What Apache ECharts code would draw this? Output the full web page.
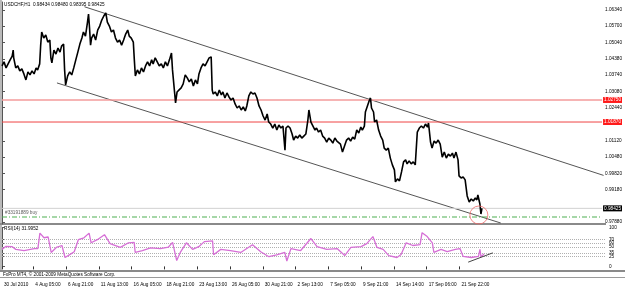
<!DOCTYPE html>
<html><head><meta charset="utf-8">
<script src="https://cdn.jsdelivr.net/npm/echarts@6/dist/echarts.min.js"></script>
<style>html,body{margin:0;padding:0;background:#fff}#c{width:625px;height:289px}</style>
</head><body><div id="c"></div>
<script>
// ---- data (bar index = H1 bars from the left edge of the chart) ----
const symbolTitle = 'USDCHF,H1  0.98434 0.98480 0.98395 0.98425';
const rsiTitle = 'RSI(14) 31.9952';
const copyright = 'FxPro MT4, \u00A9 2001-2009 MetaQuotes Software Corp.';
const xLabelBars = [0,61,125,189,253,317,381,445,509,573,637,701,765,829,893];
const xLabelTexts = ['30 Jul 2010','4 Aug 05:00','6 Aug 21:00','11 Aug 13:00','16 Aug 05:00','18 Aug 21:00','23 Aug 13:00','26 Aug 05:00','30 Aug 21:00','2 Sep 13:00','7 Sep 05:00','9 Sep 21:00','14 Sep 14:00','17 Sep 06:00','21 Sep 22:00'];
const priceTicks = [1.0634,1.0570,1.0504,1.0438,1.0374,1.0308,1.0244,1.0112,1.0048,0.9982,0.9918,0.9788];
const resistance1 = 1.0275;
const resistance2 = 1.0187;
const bidPrice = 0.98425;
const orderPrice = 0.9808;
const orderLabel = '#33191889 buy';
const price = [[0,1.0411],[4,1.0427],[8,1.0403],[12,1.0419],[16,1.0435],[20,1.0450],[22,1.0474],[23,1.0443],[27,1.0403],[31,1.0411],[35,1.0391],[39,1.0399],[43,1.0379],[47,1.0355],[51,1.0387],[55,1.0375],[59,1.0391],[63,1.0379],[67,1.0403],[70,1.0395],[74,1.0419],[76,1.0494],[78,1.0546],[82,1.0522],[86,1.0534],[90,1.0506],[94,1.0514],[96,1.0443],[98,1.0423],[102,1.0474],[106,1.0458],[110,1.0482],[114,1.0466],[117,1.0490],[121,1.0498],[123,1.0395],[125,1.0335],[129,1.0371],[133,1.0387],[137,1.0375],[141,1.0403],[145,1.0435],[149,1.0466],[153,1.0498],[157,1.0522],[160,1.0546],[164,1.0530],[168,1.0586],[170,1.0618],[172,1.0562],[174,1.0494],[176,1.0522],[180,1.0538],[184,1.0514],[188,1.0554],[192,1.0570],[196,1.0594],[200,1.0610],[204,1.0622],[207,1.0586],[211,1.0570],[215,1.0546],[219,1.0554],[223,1.0522],[227,1.0506],[231,1.0514],[235,1.0494],[239,1.0514],[243,1.0538],[247,1.0554],[250,1.0530],[254,1.0522],[258,1.0506],[260,1.0435],[262,1.0371],[266,1.0395],[270,1.0379],[274,1.0403],[278,1.0387],[282,1.0411],[286,1.0427],[290,1.0411],[294,1.0435],[297,1.0419],[301,1.0443],[305,1.0427],[309,1.0411],[313,1.0419],[317,1.0403],[321,1.0427],[325,1.0411],[329,1.0435],[333,1.0462],[335,1.0395],[339,1.0307],[341,1.0263],[344,1.0307],[348,1.0315],[352,1.0323],[356,1.0339],[360,1.0375],[364,1.0363],[368,1.0347],[372,1.0359],[376,1.0331],[380,1.0355],[384,1.0339],[387,1.0379],[391,1.0403],[395,1.0419],[399,1.0411],[403,1.0427],[407,1.0443],[411,1.0447],[413,1.0315],[415,1.0299],[419,1.0307],[423,1.0291],[427,1.0315],[431,1.0295],[434,1.0307],[438,1.0283],[442,1.0303],[446,1.0287],[450,1.0275],[454,1.0283],[458,1.0259],[462,1.0243],[466,1.0251],[470,1.0235],[474,1.0247],[478,1.0231],[481,1.0251],[485,1.0291],[489,1.0307],[493,1.0299],[497,1.0303],[501,1.0283],[505,1.0251],[509,1.0235],[513,1.0211],[517,1.0195],[521,1.0219],[524,1.0187],[528,1.0179],[532,1.0163],[536,1.0179],[540,1.0155],[544,1.0175],[548,1.0163],[552,1.0171],[556,1.0075],[558,1.0163],[562,1.0171],[566,1.0163],[570,1.0139],[573,1.0115],[577,1.0131],[581,1.0123],[585,1.0135],[589,1.0123],[593,1.0131],[597,1.0139],[601,1.0195],[603,1.0235],[607,1.0187],[611,1.0171],[615,1.0155],[618,1.0163],[622,1.0147],[626,1.0155],[630,1.0131],[634,1.0123],[638,1.0107],[642,1.0123],[646,1.0115],[650,1.0103],[654,1.0123],[658,1.0111],[661,1.0115],[665,1.0099],[669,1.0067],[673,1.0091],[677,1.0115],[681,1.0123],[685,1.0111],[689,1.0127],[693,1.0119],[697,1.0155],[701,1.0143],[705,1.0167],[708,1.0155],[712,1.0171],[714,1.0227],[718,1.0251],[722,1.0275],[724,1.0283],[726,1.0243],[730,1.0227],[732,1.0187],[736,1.0195],[740,1.0155],[744,1.0131],[748,1.0115],[751,1.0083],[755,1.0075],[759,1.0083],[763,1.0043],[767,1.0016],[771,0.9996],[773,0.9948],[777,0.9960],[781,0.9952],[785,0.9988],[789,1.0028],[793,1.0036],[796,1.0020],[800,1.0032],[804,1.0020],[808,1.0028],[812,1.0016],[816,1.0147],[820,1.0163],[824,1.0171],[828,1.0163],[832,1.0179],[836,1.0167],[838,1.0183],[842,1.0107],[845,1.0083],[849,1.0111],[853,1.0103],[857,1.0115],[861,1.0099],[865,1.0047],[869,1.0067],[873,1.0043],[877,1.0059],[881,1.0051],[885,1.0063],[888,1.0043],[892,1.0067],[896,1.0036],[898,0.9972],[902,0.9964],[906,0.9968],[910,0.9956],[914,0.9892],[918,0.9868],[922,0.9880],[926,0.9872],[930,0.9884],[933,0.9876],[935,0.9896],[939,0.9860],[941,0.9820],[943,0.98425]];
const upperChannel = [[162,1.0647],[1182,0.9974]];
const lowerChannel = [[108,1.0343],[980,0.9784]];
const markedPoint = [[937,0.9816]];
const rsiBars = [0,8,20,27,43,63,70,74,82,90,96,106,117,123,133,141,149,160,170,174,186,200,211,231,247,258,260,274,290,309,325,333,341,348,360,372,384,395,411,413,427,446,466,489,505,521,536,552,556,564,583,603,615,634,654,669,681,701,712,724,732,744,755,771,779,789,802,816,820,830,840,843,857,869,885,894,900,916,930,933,935,941];
const rsiValues = [44,52,51,44,41,46,46,86,74,76,36,49,54,23,31,38,69,74,86,61,69,82,59,49,61,62,36,41,48,46,50,62,15,36,61,44,51,64,66,30,44,41,36,56,38,25,30,36,14,46,41,72,51,44,46,28,49,51,59,77,49,44,28,23,31,61,54,56,87,77,61,36,44,38,44,46,26,23,26,44,25,32];
const rsiLevels = [70,60,50,35,25];
const rsiTicks = [0,25,35,50,60,70,100];
const rsiTrend = [[910,11],[958,35]];

const FONT = 'Liberation Sans';
const FS = 4.7;
const XMIN = 0, XMAX = 1179;
const chart = echarts.init(document.getElementById('c'), null, {renderer:'canvas'});
const rsiData = rsiBars.map((b,i)=>[b, rsiValues[i]]);

function hLine(level, color, width, type, labelText, labelBg, z){
  const s = {type:'line', xAxisIndex:0, yAxisIndex:0, data:[[XMIN,level],[XMAX,level]], symbol:'none', silent:true,
    clip:false, z:z||3, color:color, lineStyle:{color:color, width:width, type:type}};
  if (labelText) s.endLabel = {show:true, formatter:labelText, backgroundColor:labelBg, color:'#fff',
      fontSize:FS, fontFamily:FONT, padding:[1,1,0,1], distance:1};
  return s;
}

chart.setOption({
  animation:false,
  backgroundColor:'#fff',
  grid:[
    {left:2, top:2, width:604, height:222},
    {left:2, top:227.7, width:604, height:38.7}
  ],
  xAxis:[
    {gridIndex:0, type:'value', min:XMIN, max:XMAX, show:false},
    {gridIndex:1, type:'value', min:XMIN, max:XMAX, offset:12.6,
      axisLine:{show:false},
      axisTick:{show:true, customValues:xLabelBars, length:3, lineStyle:{color:'#333'}},
      axisLabel:{customValues:xLabelBars, align:'left', margin:3, padding:[0,0,0,2], fontSize:FS, fontFamily:FONT, color:'#000',
        formatter:(v)=>{const i=xLabelBars.indexOf(Math.round(v)); return i>=0?xLabelTexts[i]:'';}},
      splitLine:{show:false}}
  ],
  yAxis:[
    {gridIndex:0, type:'value', position:'right', min:0.97801, max:1.06659, scale:true,
      axisLine:{show:true, lineStyle:{color:'#555'}},
      axisTick:{show:true, customValues:priceTicks, length:3, lineStyle:{color:'#555'}},
      axisLabel:{customValues:priceTicks, margin:3, fontSize:FS, fontFamily:FONT, color:'#000', formatter:(v)=>v.toFixed(5)},
      splitLine:{show:false}},
    {gridIndex:1, type:'value', position:'right', min:0, max:100,
      axisLine:{show:true, lineStyle:{color:'#555'}},
      axisTick:{show:true, customValues:rsiTicks, length:3, lineStyle:{color:'#555'}},
      axisLabel:{customValues:rsiTicks, margin:3, fontSize:FS, fontFamily:FONT, color:'#000'},
      splitLine:{show:false}}
  ],
  series:[
    hLine(resistance1, '#f39b9b', 1.6, 'solid', resistance1.toFixed(5), '#ff1a1a', 3),
    hLine(resistance2, '#f04545', 1, 'solid', resistance2.toFixed(5), '#ff1a1a', 3),
    hLine(bidPrice, '#d2d2d2', 1, 'solid', bidPrice.toFixed(5), '#000', 3),
    hLine(orderPrice, '#4caf50', 1, [5,2,1,2], null, null, 3),
    {type:'scatter', xAxisIndex:0, yAxisIndex:0, data:[[XMIN, orderPrice]], symbol:'rect', symbolSize:0.1, silent:true, z:7,
      itemStyle:{color:'rgba(0,0,0,0)'},
      label:{show:true, formatter:orderLabel, position:'right', distance:3, offset:[0,-4.5], color:'#333', fontSize:FS, fontFamily:FONT}},
    {type:'line', xAxisIndex:0, yAxisIndex:0, data:upperChannel, symbol:'none', silent:true,
      color:'#555', lineStyle:{color:'#555', width:1}, z:2},
    {type:'line', xAxisIndex:0, yAxisIndex:0, data:lowerChannel, symbol:'none', silent:true,
      color:'#555', lineStyle:{color:'#555', width:1}, z:2},
    {type:'line', xAxisIndex:0, yAxisIndex:0, data:price, symbol:'none', silent:true,
      color:'#000', lineStyle:{color:'#000', width:1.6}, z:5},
    {type:'scatter', xAxisIndex:0, yAxisIndex:0, data:markedPoint, symbol:'circle', symbolSize:18, silent:true,
      itemStyle:{color:'rgba(0,0,0,0)', borderColor:'#ee6a6a', borderWidth:1}, z:6},
    {type:'line', xAxisIndex:1, yAxisIndex:1, data:rsiData, symbol:'none', silent:true,
      color:'#d66fd6', lineStyle:{color:'#d66fd6', width:1.3}, z:5,
      markLine:{symbol:'none', silent:true, animation:false,
        data:rsiLevels.map(l=>({yAxis:l})), lineStyle:{color:'#b0b0b0', width:1, type:[1,1]}, label:{show:false}}},
    {type:'line', xAxisIndex:1, yAxisIndex:1, data:rsiTrend, symbol:'none', silent:true,
      color:'#444', lineStyle:{color:'#444', width:1}, z:6}
  ],
  graphic:[
    {type:'rect', shape:{x:0.5, y:0, width:1, height:272}, style:{fill:'#777'}, silent:true},
    {type:'rect', shape:{x:0, y:223, width:606, height:2}, style:{fill:'#8a8a8a'}, silent:true},
    {type:'rect', shape:{x:0, y:270, width:625, height:2}, style:{fill:'#8a8a8a'}, silent:true},
    {type:'rect', shape:{x:0, y:277, width:625, height:1}, style:{fill:'#9a9a9a'}, silent:true},
    {type:'text', left:4, top:2.5, style:{text:symbolTitle, fontSize:FS, fontFamily:FONT, fill:'#000'}, silent:true},
    {type:'text', left:4, top:226.5, style:{text:rsiTitle, fontSize:FS, fontFamily:FONT, fill:'#000'}, silent:true},
    {type:'text', left:3, top:272, style:{text:copyright, fontSize:FS, fontFamily:FONT, fill:'#000'}, silent:true}
  ]
});
</script></body></html>
